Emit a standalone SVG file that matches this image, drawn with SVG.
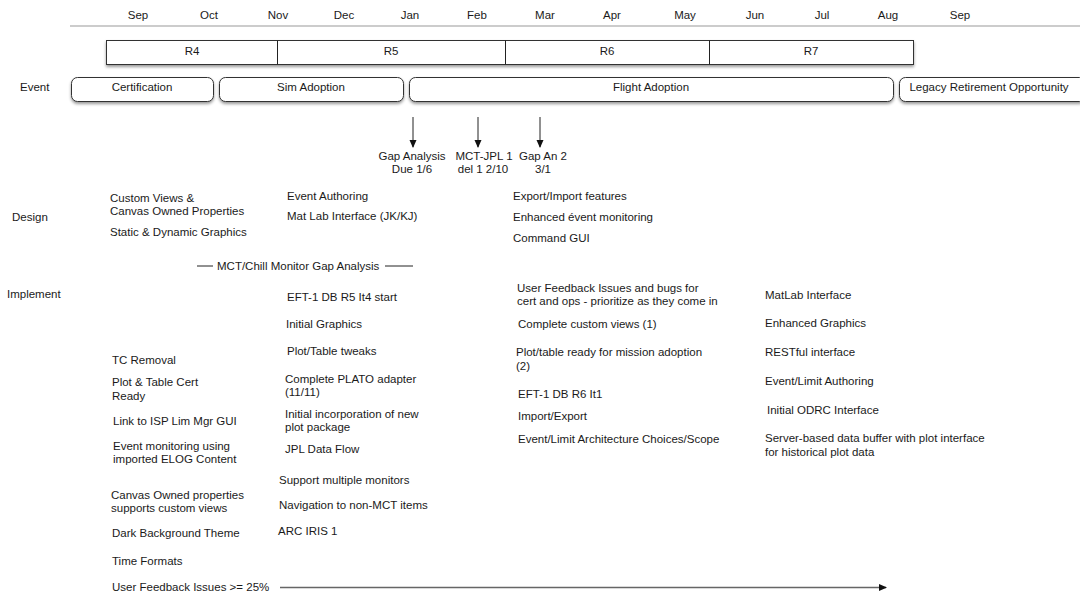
<svg xmlns="http://www.w3.org/2000/svg" width="1080" height="594" viewBox="0 0 1080 594">
<style>
text{font-family:"Liberation Sans",Arial,sans-serif;font-size:11.5px;fill:#1a1a1a}
.c{text-anchor:middle}
.box{fill:#fff;stroke:#333;stroke-width:1}
.ln{stroke:#222;stroke-width:1;fill:none}
</style>
<defs>
<filter id="sh" x="-5%" y="-30%" width="110%" height="180%">
<feDropShadow dx="0" dy="2" stdDeviation="1.5" flood-color="#000" flood-opacity="0.4"/>
</filter>
<marker id="ah" markerWidth="8" markerHeight="8" refX="7" refY="4" orient="auto" markerUnits="userSpaceOnUse">
<path d="M0,0.5 L8,4 L0,7.5 Z" fill="#111"/>
</marker>
</defs>
<rect width="1080" height="594" fill="#fff"/>

<g id="months">
<text class="c" x="138" y="19">Sep</text>
<text class="c" x="209" y="19">Oct</text>
<text class="c" x="278" y="19">Nov</text>
<text class="c" x="344" y="19">Dec</text>
<text class="c" x="410" y="19">Jan</text>
<text class="c" x="477" y="19">Feb</text>
<text class="c" x="545" y="19">Mar</text>
<text class="c" x="612" y="19">Apr</text>
<text class="c" x="685" y="19">May</text>
<text class="c" x="755" y="19">Jun</text>
<text class="c" x="822" y="19">Jul</text>
<text class="c" x="888" y="19">Aug</text>
<text class="c" x="960" y="19">Sep</text>
<line x1="70" y1="26" x2="1080" y2="26" stroke="#999" stroke-width="1.2"/>
</g>

<g id="releases">
<rect class="box" x="106.5" y="40.5" width="807" height="24" filter="url(#sh)"/>
<line class="ln" x1="277.5" y1="40.5" x2="277.5" y2="64.5"/>
<line class="ln" x1="505.5" y1="40.5" x2="505.5" y2="64.5"/>
<line class="ln" x1="709.5" y1="40.5" x2="709.5" y2="64.5"/>
<text class="c" x="192" y="55">R4</text>
<text class="c" x="391" y="55">R5</text>
<text class="c" x="607" y="55">R6</text>
<text class="c" x="811" y="55">R7</text>
</g>

<g id="event-label"><text x="20" y="91">Event</text></g>
<g id="certification">
<rect class="box" x="71.5" y="77.5" width="142" height="24" rx="6" filter="url(#sh)"/>
<text class="c" x="142" y="91">Certification</text>
</g>
<g id="sim-adoption">
<rect class="box" x="219.5" y="77.5" width="184" height="24" rx="6" filter="url(#sh)"/>
<text class="c" x="311" y="91">Sim Adoption</text>
</g>
<g id="flight-adoption">
<rect class="box" x="409.5" y="77.5" width="484" height="24" rx="6" filter="url(#sh)"/>
<text class="c" x="651" y="91">Flight Adoption</text>
</g>
<g id="legacy">
<rect class="box" x="899.5" y="77.5" width="186" height="24" rx="6" filter="url(#sh)"/>
<text class="c" x="989" y="91">Legacy Retirement Opportunity</text>
</g>

<g id="connectors">
<line class="ln" x1="413" y1="117" x2="413" y2="147" marker-end="url(#ah)"/>
<line class="ln" x1="478" y1="117" x2="478" y2="147" marker-end="url(#ah)"/>
<line class="ln" x1="540" y1="117" x2="540" y2="147" marker-end="url(#ah)"/>
<line class="ln" x1="197" y1="266" x2="213" y2="266"/>
<line class="ln" x1="385" y1="266" x2="413" y2="266"/>
<line x1="280" y1="587.5" x2="886" y2="587.5" stroke="#666" stroke-width="1.3" marker-end="url(#ah)"/>
</g>

<g id="gap-analysis"><text class="c" x="412" y="160">Gap Analysis</text><text class="c" x="412" y="173">Due 1/6</text></g>
<g id="mct-jpl"><text class="c" x="484" y="160">MCT-JPL 1</text><text class="c" x="483" y="173">del 1 2/10</text></g>
<g id="gap-an2"><text class="c" x="543" y="160">Gap An 2</text><text class="c" x="543" y="173">3/1</text></g>

<g id="design-label"><text x="12" y="221">Design</text></g>
<g id="design-1">
<text x="110" y="202">Custom Views &amp;</text>
<text x="110" y="215">Canvas Owned Properties</text>
<text x="110" y="236">Static &amp; Dynamic Graphics</text>
</g>
<g id="design-2">
<text x="287" y="200">Event Authoring</text>
<text x="287" y="220">Mat Lab Interface (JK/KJ)</text>
</g>
<g id="design-3">
<text x="513" y="200">Export/Import features</text>
<text x="513" y="221">Enhanced évent monitoring</text>
<text x="513" y="242">Command GUI</text>
</g>
<g id="gap-line"><text x="217" y="270">MCT/Chill Monitor Gap Analysis</text></g>

<g id="implement-label"><text x="7" y="298">Implement</text></g>
<g id="impl-1">
<text x="112" y="364">TC Removal</text>
<text x="112" y="386">Plot &amp; Table Cert</text>
<text x="112" y="400">Ready</text>
<text x="113" y="425">Link to ISP Lim Mgr GUI</text>
<text x="113" y="450">Event monitoring using</text>
<text x="113" y="463">imported ELOG Content</text>
<text x="111" y="499">Canvas Owned properties</text>
<text x="111" y="512">supports custom views</text>
<text x="112" y="537">Dark Background Theme</text>
<text x="112" y="565">Time Formats</text>
<text x="112" y="591">User Feedback Issues &gt;= 25%</text>
</g>
<g id="impl-2">
<text x="287" y="301">EFT-1 DB R5 It4 start</text>
<text x="286" y="328">Initial Graphics</text>
<text x="287" y="355">Plot/Table tweaks</text>
<text x="285" y="383">Complete PLATO adapter</text>
<text x="285" y="396">(11/11)</text>
<text x="285" y="418">Initial incorporation of new</text>
<text x="285" y="431">plot package</text>
<text x="285" y="453">JPL Data Flow</text>
<text x="279" y="484">Support multiple monitors</text>
<text x="279" y="509">Navigation to non-MCT items</text>
<text x="278" y="535">ARC IRIS 1</text>
</g>
<g id="impl-3">
<text x="517" y="292">User Feedback Issues and bugs for</text>
<text x="517" y="305">cert and ops - prioritize as they come in</text>
<text x="518" y="328">Complete custom views (1)</text>
<text x="516" y="356">Plot/table ready for mission adoption</text>
<text x="516" y="370">(2)</text>
<text x="518" y="398">EFT-1 DB R6 It1</text>
<text x="518" y="420">Import/Export</text>
<text x="518" y="443">Event/Limit Architecture Choices/Scope</text>
</g>
<g id="impl-4">
<text x="765" y="299">MatLab Interface</text>
<text x="765" y="327">Enhanced Graphics</text>
<text x="765" y="356">RESTful interface</text>
<text x="765" y="385">Event/Limit Authoring</text>
<text x="767" y="414">Initial ODRC Interface</text>
<text x="765" y="442">Server-based data buffer with plot interface</text>
<text x="765" y="456">for historical plot data</text>
</g>
</svg>
